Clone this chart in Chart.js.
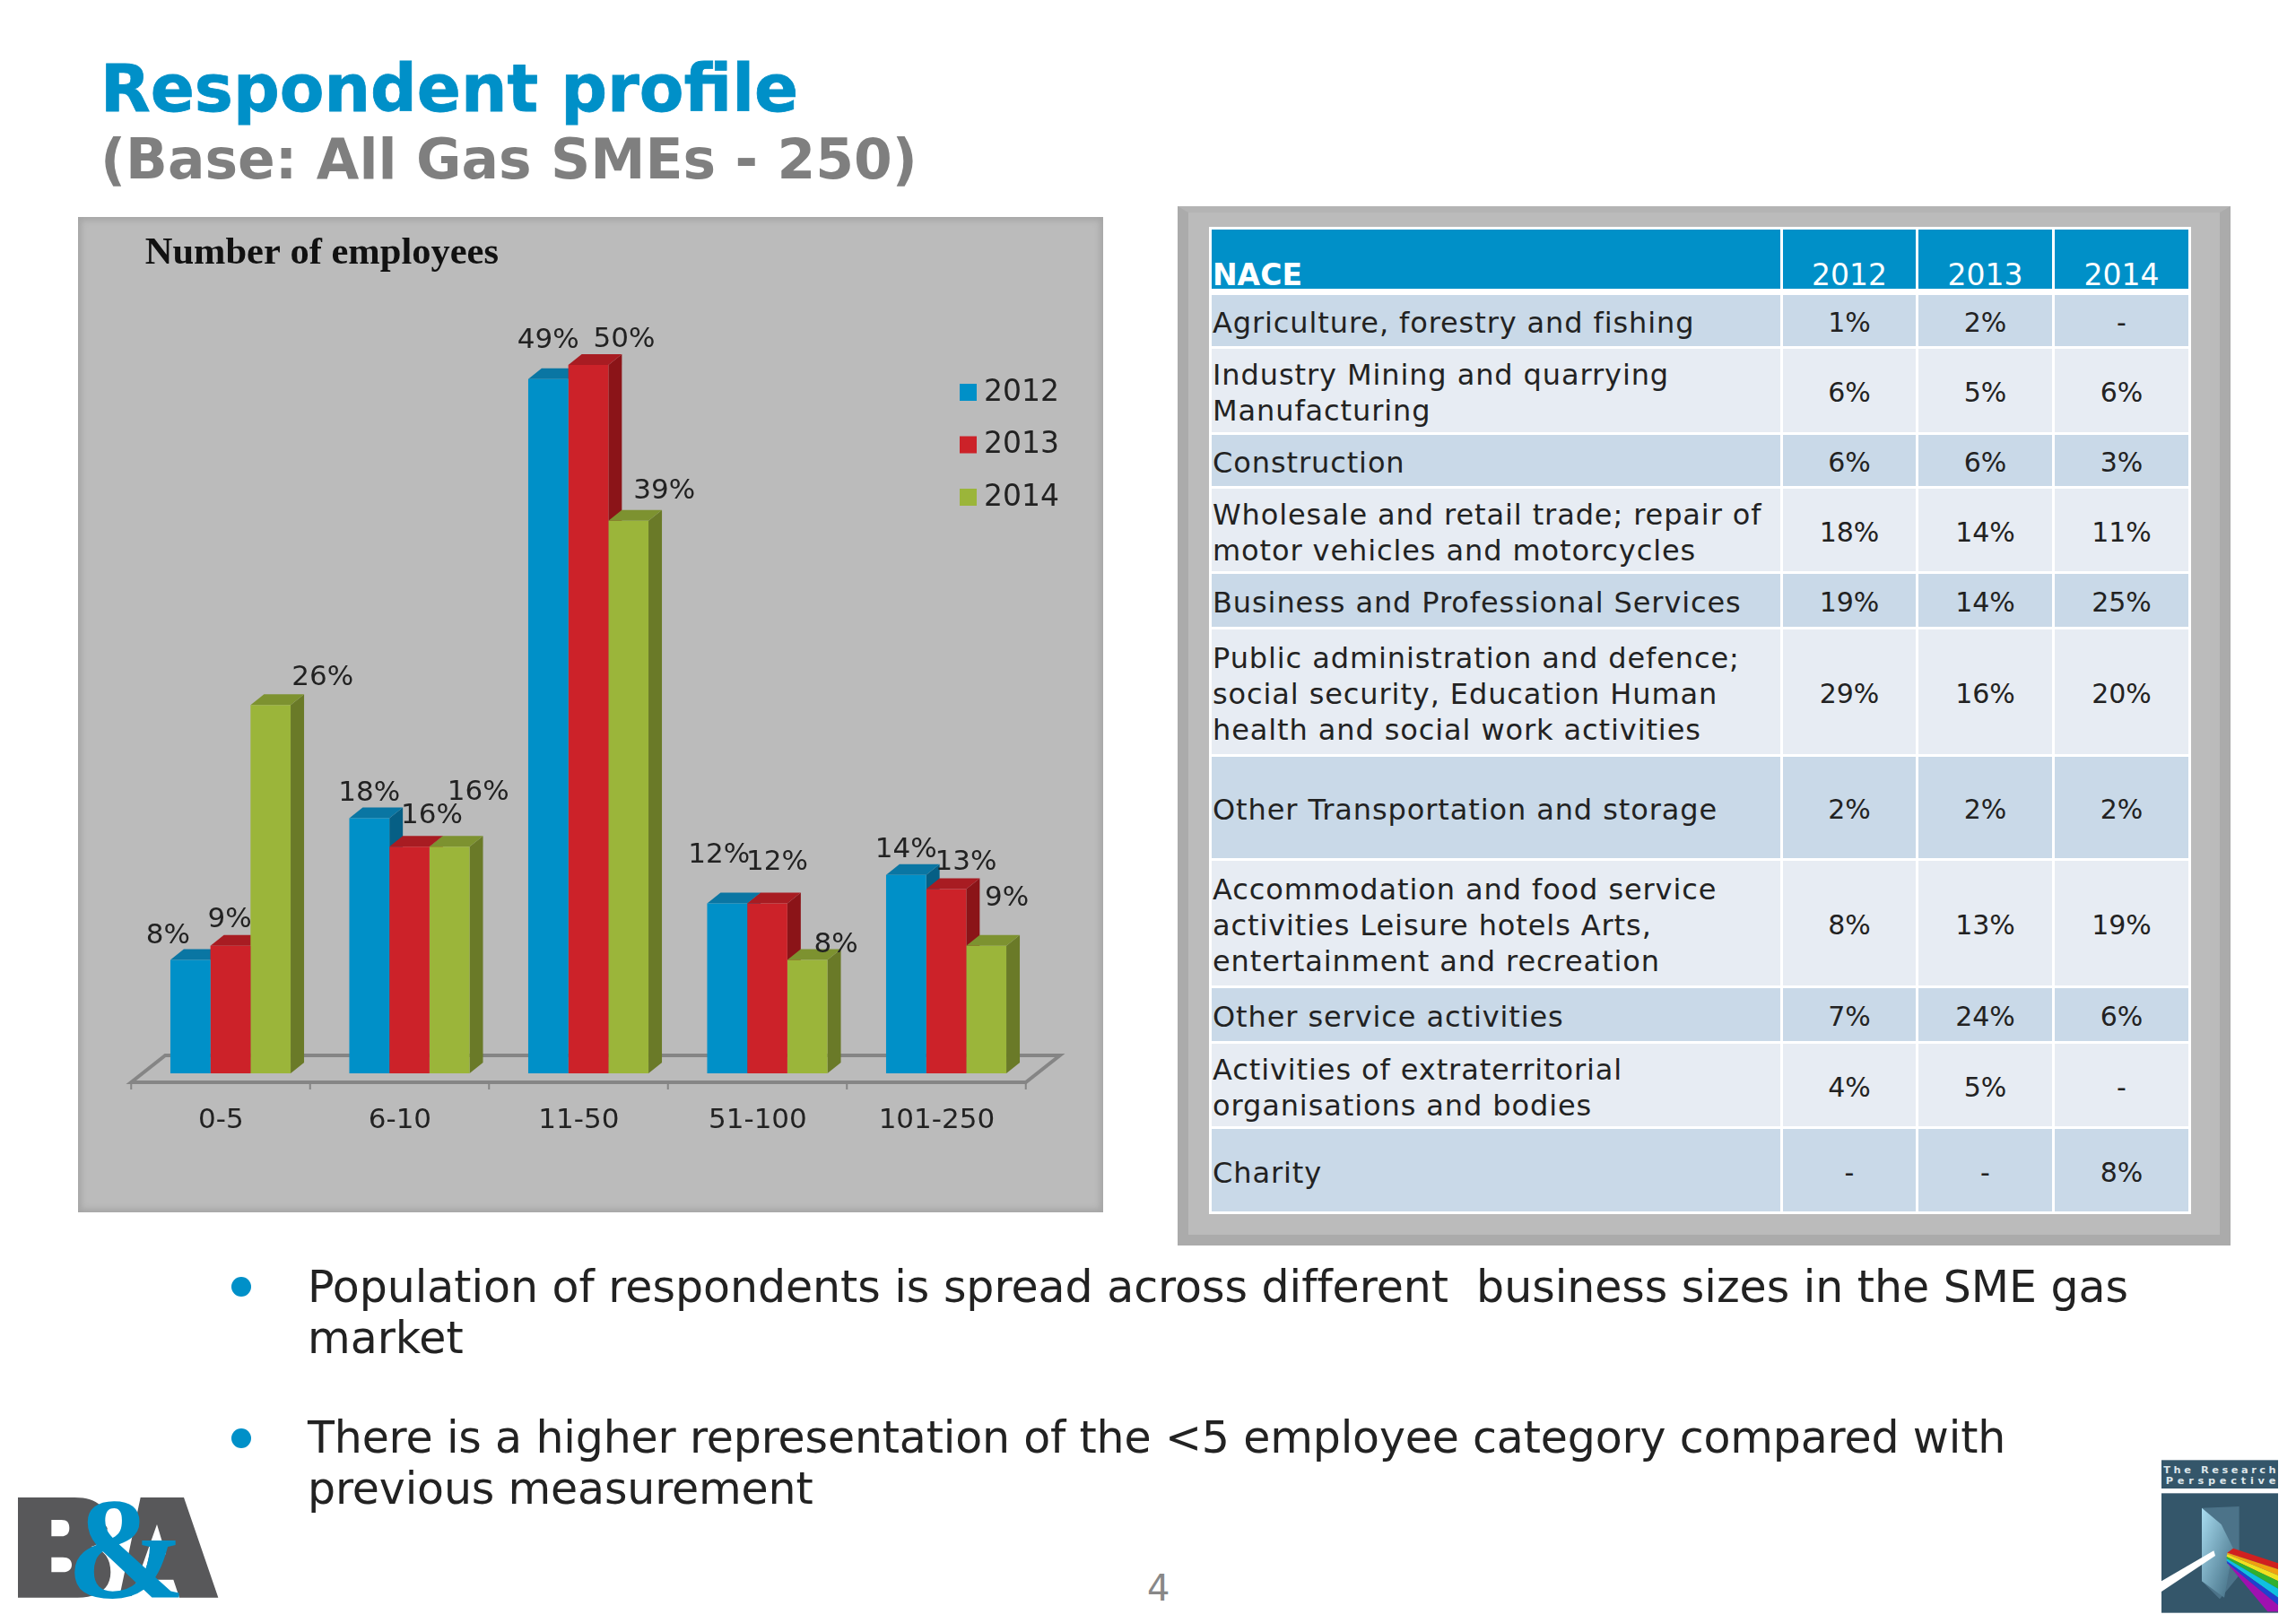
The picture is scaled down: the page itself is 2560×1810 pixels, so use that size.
<!DOCTYPE html>
<html>
<head>
<meta charset="utf-8">
<title>Respondent profile</title>
<script src="https://cdn.jsdelivr.net/npm/chart.js@4/dist/chart.umd.js"></script>
<style>
  html, body { margin: 0; padding: 0; background: #fff; }
  body { width: 2560px; height: 1810px; position: relative; overflow: hidden; font-family: "DejaVu Sans", sans-serif; }
  .abs { position: absolute; white-space: nowrap; }
  #title { left: 112px; top: 54px; font-size: 72.4px; line-height: 90px; font-weight: bold; color: #0090c8; -webkit-text-stroke: 0.8px #0090c8; }
  #subtitle { left: 112px; top: 142px; font-size: 61.5px; line-height: 72px; font-weight: bold; color: #7f7f7f; }
  .panel { position: absolute; box-sizing: border-box; background: #bbb; }
  #chartPanel { left: 87px; top: 242px; width: 1143px; height: 1110px; box-shadow: inset 0 0 6px 4px #a6a6a6; }
  #tablePanel { left: 1313px; top: 230px; width: 1174px; height: 1159px; border: 12px solid #ababab; border-top: 7px solid #b4b4b4; }
  #myChart { position: absolute; left: 88px; top: 242px; }
  #nace { position: absolute; left: 1348px; top: 253px; width: 1092px; border-collapse: collapse; table-layout: fixed; font-size: 30px; color: #222; }
  #nace td, #nace th { border: 3px solid #fff; padding: 0; text-align: center; line-height: 40px; white-space: pre-line; }
  #nace td { padding-top: 5px; box-sizing: border-box; }
  #nace td:first-child, #nace th:first-child { text-align: left; padding-left: 1px; }
  #nace td:first-child { font-size: 32px; letter-spacing: 0.9px; }
  #nace th { background: #0090c8; color: #fff; font-weight: normal; font-size: 33px; line-height: 30px; vertical-align: bottom; border-bottom-width: 7px; }
  #nace th:first-child { font-weight: bold; }
  #nace tr.dark td { background: #c9d9e8; }
  #nace tr.light td { background: #e7ecf3; }
  .bullet { position: absolute; left: 343px; font-size: 49px; line-height: 57px; color: #222; white-space: nowrap; }
  .dot { position: absolute; left: 258px; width: 22px; height: 22px; border-radius: 50%; background: #0090c8; }
  #pageNo { left: 1279px; top: 1748px; font-size: 40px; color: #888; }
</style>
</head>
<body>
<div id="title" class="abs">Respondent profile</div>
<div id="subtitle" class="abs">(Base: All Gas SMEs - 250)</div>

<div id="chartPanel" class="panel"></div>
<canvas id="myChart" width="1141" height="1108"></canvas>

<div id="tablePanel" class="panel"></div>
<table id="nace"></table>

<div class="dot" style="top:1424px"></div>
<div class="bullet" style="top:1407px;letter-spacing:-0.04px">Population of respondents is spread across different&nbsp; business sizes in the SME gas<br>market</div>
<div class="dot" style="top:1593px"></div>
<div class="bullet" style="top:1575px;letter-spacing:-0.17px">There is a higher representation of the &lt;5 employee category compared with<br>previous measurement</div>

<div id="pageNo" class="abs">4</div>

<!-- B&A logo -->
<svg class="abs" style="left:0;top:1620px" width="300" height="190" viewBox="0 0 900 570">
  <path fill="#58585a" fill-rule="evenodd" d="M60 150H250C330 150 360 190 360 240C360 280 340 305 305 315C350 325 370 355 370 400C370 455 330 485 260 485H60ZM172 225V280H205C225 280 232 268 232 252C232 235 225 225 205 225ZM172 350V400H210C230 400 240 390 240 375C240 360 230 350 210 350Z"/>
  <polygon fill="#58585a" points="470,150 615,150 730,485 600,485 580,425 480,425 500,340 555,340 525,240 440,480 400,480"/>
  <ellipse cx="395" cy="212" rx="50" ry="58" fill="#fff"/>
  <text x="222" y="482" font-family="Liberation Serif" font-weight="bold" font-size="480" fill="#0090c8">&amp;</text>
</svg>

<!-- The Research Perspective logo -->
<svg class="abs" style="left:2380px;top:1600px" width="180" height="210" viewBox="0 0 540 630">
  <defs>
    <linearGradient id="prism" x1="0" y1="0" x2="1" y2="1">
      <stop offset="0" stop-color="#a8dcf0"/><stop offset="1" stop-color="#3f6a80"/>
    </linearGradient>
  </defs>
  <rect x="90" y="85" width="390" height="95" fill="#34566a"/>
  <rect x="90" y="196" width="390" height="400" fill="#34566a"/>
  <text x="97" y="130" font-size="34" font-weight="bold" fill="#dde6ea" textLength="376">The Research</text>
  <text x="104" y="166" font-size="34" font-weight="bold" fill="#dde6ea" textLength="368">Perspective</text>
  <polygon points="225,245 350,240 350,470 285,550 225,490" fill="#4c7389"/>
  <polygon points="225,245 290,300 330,380 300,545 225,490" fill="url(#prism)"/>
  <polygon points="90,490 265,388 270,405 90,525" fill="#fff"/>
  <polygon points="330,380 480,430 480,450 310,395" fill="#d02020"/>
  <polygon points="310,395 480,450 480,470 310,400" fill="#f0a010"/>
  <polygon points="310,400 480,470 480,490 308,408" fill="#f0e020"/>
  <polygon points="308,408 480,490 480,515 308,415" fill="#30b030"/>
  <polygon points="308,415 480,515 480,545 308,422" fill="#10c0e0"/>
  <polygon points="308,422 480,545 480,570 310,430" fill="#2040d0"/>
  <polygon points="310,430 480,570 480,592 445,592" fill="#a010b0"/>
</svg>

<script>
// Chart data
const categories = ["0-5", "6-10", "11-50", "51-100", "101-250"];
const seriesNames = ["2012", "2013", "2014"];
const values2012 = [8, 18, 49, 12, 14];
const values2013 = [9, 16, 50, 12, 13];
const values2014 = [26, 16, 39, 8, 9];

// NACE table data
const naceHeader = ["NACE", "2012", "2013", "2014"];
const naceNames = [
    "Agriculture, forestry and fishing",
    "Industry Mining and quarrying\nManufacturing",
    "Construction",
    "Wholesale and retail trade; repair of\nmotor vehicles and motorcycles",
    "Business and Professional Services",
    "Public administration and defence;\nsocial security, Education Human\nhealth and social work activities",
    "Other Transportation and storage",
    "Accommodation and food service\nactivities Leisure hotels Arts,\nentertainment and recreation",
    "Other service activities",
    "Activities of extraterritorial\norganisations and bodies",
    "Charity"
];
const nace2012 = ["1%", "6%", "6%", "18%", "19%", "29%", "2%", "8%", "7%", "4%", "-"];
const nace2013 = ["2%", "5%", "6%", "14%", "14%", "16%", "2%", "13%", "24%", "5%", "-"];
const nace2014 = ["-", "6%", "3%", "11%", "25%", "20%", "2%", "19%", "6%", "-", "8%"];

// Builds the table next to the chart
function buildTable() {
    const columnWidths = [637, 151, 152, 152];
    const rowHeights = [62, 96, 60, 95, 62, 142, 116, 142, 62, 95, 95];
    const table = document.getElementById("nace");
    const colgroup = document.createElement("colgroup");
    columnWidths.forEach(w => {
        const col = document.createElement("col");
        col.style.width = w + "px";
        colgroup.appendChild(col);
    });
    table.appendChild(colgroup);

    const head = table.insertRow();
    head.style.height = "71px";
    naceHeader.forEach(text => {
        const th = document.createElement("th");
        th.textContent = text;
        head.appendChild(th);
    });

    naceNames.forEach((name, i) => {
        const row = table.insertRow();
        row.className = i % 2 === 0 ? "dark" : "light";
        row.style.height = rowHeights[i] + "px";
        [name, nace2012[i], nace2013[i], nace2014[i]].forEach(text => {
            row.insertCell().textContent = text;
        });
    });
}
buildTable();

// Colours per series: front, top face, side face
const frontColors = ["#0090c8", "#cc2229", "#9bb53a"];
const topColors = ["#0a76a3", "#a81c22", "#7d9230"];
const sideColors = ["#065f85", "#8b1418", "#6a7a28"];

// Moves each value label away from its bar, same as the overlapping labels in the slide
const labelNudge = [
    [[-25, -27], [0, -28], [0, -43], [-9, -53], [0, -28]],
    [[-1, -29], [25, -34], [40, -28], [11, -45], [22, -30]],
    [[58, -30], [32, -60], [40, -33], [32, -17], [23, -53]]
];

const DEPTH_X = 15;
const DEPTH_Y = 12;

// Draws the floor plate, the bar depth, the value labels and the legend
const fake3d = {
    id: "fake3d",
    afterLayout(chart) {
        chart.titleBlock.left += 4.5;
    },
    beforeDatasetsDraw(chart) {
        const ctx = chart.ctx;
        const x = chart.scales.x;
        const base = chart.scales.y.getPixelForValue(0);
        const shift = -11;
        const front = base + 10;
        const back = base - 20;
        const left = x.left + shift;
        const right = x.right + shift;

        ctx.save();
        ctx.strokeStyle = "#858585";
        ctx.lineWidth = 4;
        ctx.beginPath();
        ctx.moveTo(left, front);
        ctx.lineTo(right, front);
        ctx.lineTo(right + 38, back);
        ctx.lineTo(left + 38, back);
        ctx.closePath();
        ctx.stroke();
        ctx.lineWidth = 2;
        categories.forEach((c, i) => {
            const tx = left + (right - left) * i / categories.length;
            ctx.beginPath();
            ctx.moveTo(tx, front);
            ctx.lineTo(tx, front + 8);
            ctx.stroke();
        });
        ctx.beginPath();
        ctx.moveTo(right, front);
        ctx.lineTo(right, front + 8);
        ctx.stroke();

        // later series lie over the side face of the earlier ones
        chart.data.datasets.forEach((d, s) => {
            chart.getDatasetMeta(s).data.forEach(bar => {
                const l = bar.x - bar.width / 2;
                const r = bar.x + bar.width / 2;
                ctx.fillStyle = sideColors[s];
                ctx.beginPath();
                ctx.moveTo(r, bar.y);
                ctx.lineTo(r + DEPTH_X, bar.y - DEPTH_Y);
                ctx.lineTo(r + DEPTH_X, base - DEPTH_Y);
                ctx.lineTo(r, base);
                ctx.fill();
                ctx.fillStyle = topColors[s];
                ctx.beginPath();
                ctx.moveTo(l, bar.y);
                ctx.lineTo(l + DEPTH_X, bar.y - DEPTH_Y);
                ctx.lineTo(r + DEPTH_X, bar.y - DEPTH_Y);
                ctx.lineTo(r, bar.y);
                ctx.fill();
            });
        });
        ctx.restore();
    },
    afterDatasetsDraw(chart) {
        const ctx = chart.ctx;
        ctx.save();
        ctx.font = "31px 'DejaVu Sans'";
        ctx.fillStyle = "#222";
        ctx.textAlign = "center";
        ctx.textBaseline = "middle";
        chart.data.datasets.forEach((d, s) => {
            chart.getDatasetMeta(s).data.forEach((bar, i) => {
                const n = labelNudge[s][i];
                ctx.fillText(d.data[i] + "%", bar.x + n[0], bar.y + n[1]);
            });
        });

        // legend, sits inside the plot area on the right
        ctx.font = "33px 'DejaVu Sans'";
        ctx.textAlign = "left";
        chart.data.datasets.forEach((d, s) => {
            const y = 195 + s * 58.5;
            ctx.fillStyle = d.backgroundColor;
            ctx.fillRect(982, y - 9, 19, 19);
            ctx.fillStyle = "#222";
            ctx.fillText(d.label, 1009, y + 1);
        });
        ctx.restore();
    }
};

const chartData = {
    labels: categories,
    datasets: [
        { label: seriesNames[0], data: values2012, backgroundColor: frontColors[0] },
        { label: seriesNames[1], data: values2013, backgroundColor: frontColors[1] },
        { label: seriesNames[2], data: values2014, backgroundColor: frontColors[2] }
    ]
};

const config = {
    type: "bar",
    data: chartData,
    plugins: [fake3d],
    options: {
        responsive: false,
        animation: false,
        categoryPercentage: 0.672,
        barPercentage: 1,
        layout: { padding: { left: 69.25, right: 74.25, top: 16, bottom: 0 } },
        plugins: {
            legend: { display: false },
            tooltip: { enabled: false },
            title: {
                display: true,
                text: "Number of employees",
                align: "start",
                color: "#111",
                font: { family: "'Liberation Serif'", size: 42.5, weight: "bold", lineHeight: 1.2 },
                padding: { top: 0, bottom: 19 }
            }
        },
        scales: {
            x: {
                grid: { display: false },
                border: { display: false },
                ticks: {
                    color: "#222",
                    font: { family: "'DejaVu Sans'", size: 31 },
                    labelOffset: -10.6,
                    padding: 26,
                    maxRotation: 0
                },
                afterFit(scale) { scale.height = 153; }
            },
            y: {
                display: false,
                min: 0,
                max: 55
            }
        }
    }
};

new Chart(document.getElementById("myChart"), config);
</script>
</body>
</html>
